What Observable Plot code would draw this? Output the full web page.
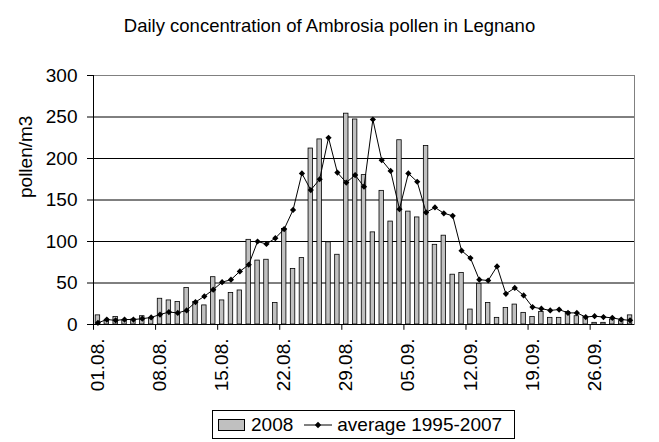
<!DOCTYPE html>
<html><head><meta charset="utf-8">
<script src="https://cdn.jsdelivr.net/npm/d3@7"></script>
<script src="https://cdn.jsdelivr.net/npm/@observablehq/plot@0.6"></script>
<style>
body{margin:0;background:#fff;font-family:"Liberation Sans",Arial,sans-serif;color:#000;}
#wrap{position:relative;width:659px;height:442px;overflow:hidden;background:#fff;}
#chart{position:absolute;left:0;top:0;}
#title{position:absolute;left:0;width:659px;top:15px;text-align:center;font-size:18.5px;line-height:22px;}
#legend{position:absolute;left:212px;top:410px;width:301px;height:27px;border:1px solid #000;background:#fff;display:flex;align-items:center;font-size:19px;}
#legend .sw{display:inline-block;width:25px;height:10px;background:#c0c0c0;border:1px solid #000;margin-left:5px;margin-right:6px;}
#legend svg{margin-left:11px;margin-right:5px;}
</style></head>
<body>
<div id="wrap">
<div id="chart"></div>
<div id="title">Daily concentration of Ambrosia pollen in Legnano</div>
<div id="legend"><span class="sw"></span><span id="l1"></span><svg width="28" height="12"><line x1="0" y1="6" x2="28" y2="6" stroke="#000" stroke-width="1"/><path d="M14,2.8L17.2,6L14,9.2L10.8,6Z" fill="#000"/></svg><span id="l2"></span></div>
</div>
<script>
const days = ["01.08.","02.08.","03.08.","04.08.","05.08.","06.08.","07.08.","08.08.","09.08.","10.08.",
"11.08.","12.08.","13.08.","14.08.","15.08.","16.08.","17.08.","18.08.","19.08.","20.08.",
"21.08.","22.08.","23.08.","24.08.","25.08.","26.08.","27.08.","28.08.","29.08.","30.08.","31.08.",
"01.09.","02.09.","03.09.","04.09.","05.09.","06.09.","07.09.","08.09.","09.09.","10.09.",
"11.09.","12.09.","13.09.","14.09.","15.09.","16.09.","17.09.","18.09.","19.09.","20.09.",
"21.09.","22.09.","23.09.","24.09.","25.09.","26.09.","27.09.","28.09.","29.09.","30.09."];
const pollen2008 = [11,5,9,5,6,10,8,31,29,27,
44,27,23,57,29,38,41,102,77,78,
26,115,67,80,212,223,99,84,254,247,180,
111,161,124,222,136,129,215,96,107,60,
62,18,49,26,8,20,24,14,9,15,
8,8,15,10,9,2,2,6,4,11];
const average = [2,6,5,6,6,7,8.5,12,15,14,
17,27,34,42,51,54,64,72,100,97,
104,115,138,182,162,175,225,183,171,180,166,
247,198,185,139,182,172,135,141,134,131,
89,80,54,53,70,37,44,35,21,19,
17,18,14,14,9,10,9,8,6,5];
const tickLabels = ["01.08.","08.08.","15.08.","22.08.","29.08.","05.09.","12.09.","19.09.","26.09."];
const yTicks = [0,50,100,150,200,250,300];
const gridVals = [50,100,150,200,250];
const seriesNames = ["2008","average 1995-2007"];
const yLabel = "pollen/m3";

document.getElementById("l1").textContent = seriesNames[0];
document.getElementById("l2").textContent = seriesNames[1];

const W = 659, H = 442, mL = 93, mR = 25, mT = 75, mB = 118;
const step = (W - mL - mR) / days.length;
const data = days.map((d, i) => ({day: d, v2008: pollen2008[i], avg: average[i]}));

const chart = Plot.plot({
  width: W, height: H,
  marginLeft: mL, marginRight: mR, marginTop: mT, marginBottom: mB,
  style: {fontFamily: "'Liberation Sans', Arial, sans-serif", fontSize: "19px", color: "#000", background: "#fff", overflow: "visible"},
  x: {type: "band", domain: days, padding: 0, axis: null},
  y: {domain: [0, 300], axis: null},
  marks: [
    Plot.ruleY(gridVals, {stroke: "#000", strokeWidth: 1}),
    Plot.frame({stroke: "#808080"}),
    Plot.barY(data, {x: "day", y: "v2008", fill: "#c0c0c0", stroke: "#000", strokeWidth: 0.8, insetLeft: 2.2, insetRight: 2.2}),
    Plot.line(data, {x: "day", y: "avg", stroke: "#000", strokeWidth: 1}),
    Plot.dot(data, {x: "day", y: "avg", symbol: "diamond2", r: 2.8, fill: "#000", stroke: null}),
    Plot.ruleY([0], {stroke: "#000"}),
    Plot.ruleX([days[0]], {y1: 0, y2: 300, dx: -step / 2, stroke: "#000"}),
    Plot.ruleX(tickLabels, {x: d => d, y1: 0, y2: -7, dx: -step / 2, stroke: "#000"}),
    Plot.axisY({ticks: yTicks, tickSize: 6, tickPadding: 10, label: null, fontSize: 19}),
    Plot.axisX({ticks: tickLabels, tickSize: 0, tickRotate: -90, tickPadding: 14, label: null, fontSize: 19}),
    Plot.text([yLabel], {frameAnchor: "left", rotate: -90, dx: -68, dy: -2, fontSize: 19})
  ]
});
document.getElementById("chart").appendChild(chart);
</script>
</body></html>
